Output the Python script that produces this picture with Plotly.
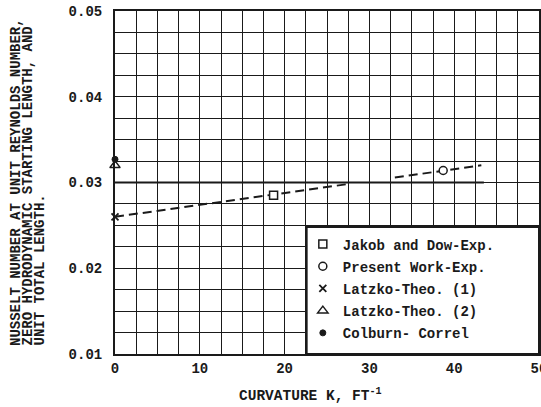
import plotly.graph_objects as go

# ---- data ----
jakob_x = [18.7]
jakob_y = [0.0285]
present_x = [38.7]
present_y = [0.0314]
latzko1_x = [0]
latzko1_y = [0.0260]
latzko2_x = [0]
latzko2_y = [0.0320]
colburn_x = [0]
colburn_y = [0.0327]

# dashed fit line (drawn with a break) and solid reference line
dashed_x = [0, 27.7, None, 33.0, 43.2]
dashed_y = [0.0260, 0.02985, None, 0.03058, 0.0320]
solid_x = [0, 43.5]
solid_y = [0.0300, 0.0300]

x_ticks = [0, 10, 20, 30, 40, 50]
y_ticks = [0.01, 0.02, 0.03, 0.04, 0.05]

legend_names = ["Jakob and Dow-Exp.", "Present Work-Exp.", "Latzko-Theo. (1)",
                "Latzko-Theo. (2)", "Colburn- Correl"]

FONT = "Liberation Mono, Courier New, monospace"
INK = "#1a1a1a"

fig = go.Figure()

fig.add_trace(go.Scatter(x=dashed_x, y=dashed_y, mode="lines",
                         line=dict(color=INK, width=2, dash="9px,5px"),
                         showlegend=False, hoverinfo="skip"))
fig.add_trace(go.Scatter(x=solid_x, y=solid_y, mode="lines",
                         line=dict(color=INK, width=2.2),
                         showlegend=False, hoverinfo="skip"))

def pts(x, y, name, symbol, size, fill="white", lw=1.5):
    fig.add_trace(go.Scatter(x=x, y=y, mode="markers", name=name,
                             legendgroup=name,
                             marker=dict(symbol=symbol, size=size, color=fill,
                                         line=dict(color=INK, width=lw)),
                             cliponaxis=False))

pts(jakob_x, jakob_y, legend_names[0], "square", 8)
pts(present_x, present_y, legend_names[1], "circle", 8)
pts(latzko1_x, latzko1_y, legend_names[2], "x-thin", 7, fill=INK, lw=1.8)
pts(latzko2_x, latzko2_y, legend_names[3], "triangle-up", 9)
pts(colburn_x, colburn_y, legend_names[4], "circle", 6, fill=INK, lw=1)

# legend box (white panel covering the grid)
fig.add_shape(type="rect", xref="x", yref="y", x0=22.6, x1=50, y0=0.01, y1=0.0248,
              fillcolor="white", line=dict(color=INK, width=2), layer="above")

axis_common = dict(showline=True, linecolor=INK, linewidth=2, mirror=True,
                   showgrid=True, gridcolor=INK, gridwidth=1.4, zeroline=False,
                   automargin=False, ticklabeloverflow="allow",
                   ticks="", tickfont=dict(family=FONT, size=14, color=INK, weight="bold"))

fig.update_xaxes(range=[0, 50], tickvals=x_ticks, ticktext=[str(v) for v in x_ticks],
                 minor=dict(dtick=2.5, showgrid=True, gridcolor=INK, gridwidth=1.4),
                 ticklabelstandoff=0, **axis_common)
fig.update_yaxes(range=[0.01, 0.05], tickvals=y_ticks,
                 ticktext=["%.2f" % v for v in y_ticks],
                 minor=dict(dtick=0.0025, showgrid=True, gridcolor=INK, gridwidth=1.4),
                 ticklabelstandoff=8, **axis_common)

# y-axis title: three rotated lines
ylines = ["NUSSELT NUMBER AT UNIT REYNOLDS NUMBER,",
          "ZERO HYDRODYNAMIC STARTING LENGTH, AND",
          "UNIT TOTAL LENGTH."]
for px, txt in zip([16, 28, 40], ylines):
    fig.add_annotation(text=txt, xref="paper", yref="paper", x=(px - 115) / 424,
                       y=0.0175, xanchor="center", yanchor="bottom", textangle=-90,
                       showarrow=False,
                       font=dict(family=FONT, size=14, color=INK, weight="bold"))

fig.add_annotation(text="CURVATURE K, FT<sup>-1</sup>", xref="paper", yref="paper",
                   x=0.462, y=(354 - 395) / 343, xanchor="center", yanchor="middle",
                   showarrow=False,
                   font=dict(family=FONT, size=14.5, color=INK, weight="bold"))

fig.update_layout(
    width=541, height=407,
    margin=dict(l=115, r=2, t=11, b=53, autoexpand=False),
    paper_bgcolor="white", plot_bgcolor="white",
    showlegend=True,
    legend=dict(x=0.443, y=0.366, xanchor="left", yanchor="top",
                bgcolor="rgba(0,0,0,0)", borderwidth=0, tracegroupgap=1,
                font=dict(family=FONT, size=14, color=INK, weight="bold")),
)

# remove the default 8px page margin so the figure sits at the window's corner
fig.write_html("out.html", config={"displayModeBar": False},
               post_script="document.body.style.margin='0';")
